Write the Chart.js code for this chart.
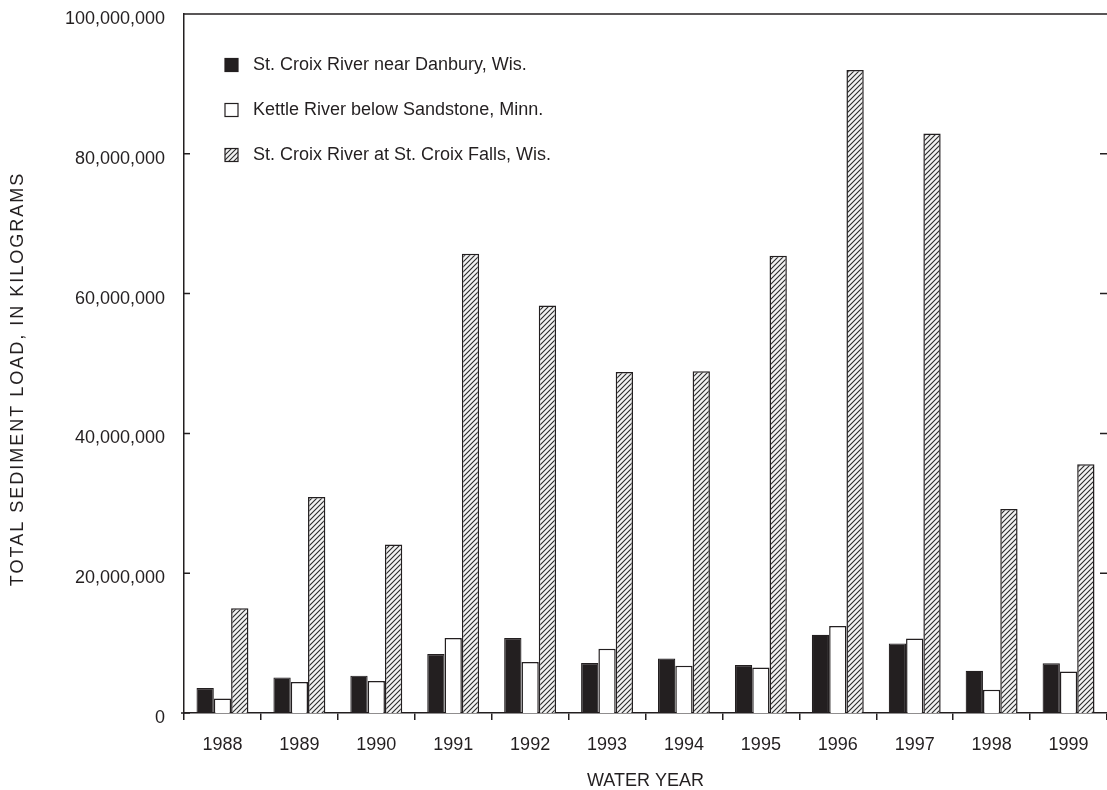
<!DOCTYPE html>
<html>
<head>
<meta charset="utf-8">
<script src="https://cdn.jsdelivr.net/npm/chart.js@4"></script>
<style>
  html, body { margin: 0; padding: 0; background: #fff; }
</style>
</head>
<body>
<canvas id="sediment" width="1107" height="790"></canvas>
<script>
// water years on the x axis
const years = ["1988", "1989", "1990", "1991", "1992", "1993", "1994", "1995", "1996", "1997", "1998", "1999"];

// total sediment load, kilograms
const danbury = [3580000, 5090000, 5340000, 8440000, 10730000, 7150000, 7800000, 6870000, 11200000, 9960000, 6050000, 7100000];
const kettle = [2090000, 4430000, 4580000, 10730000, 7300000, 9200000, 6770000, 6520000, 12450000, 10670000, 3330000, 5950000];
const stCroixFalls = [15000000, 30900000, 24100000, 65700000, 58300000, 48800000, 48900000, 65400000, 92000000, 82900000, 29200000, 35600000];

const seriesNames = [
  "St. Croix River near Danbury, Wis.",
  "Kettle River below Sandstone, Minn.",
  "St. Croix River at St. Croix Falls, Wis."
];
const yTicks = [0, 20000000, 40000000, 60000000, 80000000, 100000000];
const yTitle = "TOTAL SEDIMENT LOAD, IN KILOGRAMS";

const ink = "#231f20";
const font = "'Liberation Sans', Arial, sans-serif";

// diagonal hatching for the St. Croix Falls bars
function makeHatch() {
  const c = document.createElement("canvas");
  c.width = 5; c.height = 5;
  const g = c.getContext("2d");
  g.fillStyle = "#f2f2f2";
  g.fillRect(0, 0, 5, 5);
  g.strokeStyle = "#2a2a2a";
  g.lineWidth = 1.1;
  g.beginPath();
  g.moveTo(0, 5); g.lineTo(5, 0);
  g.moveTo(-1, 1); g.lineTo(1, -1);
  g.moveTo(4, 6); g.lineTo(6, 4);
  g.stroke();
  return g.createPattern(c, "repeat");
}
const hatch = makeHatch();

// ! frame, inward ticks, y title and the legend inside the plot
const framePlugin = {
  id: "frame",
  afterDraw(chart) {
    const ctx = chart.ctx;
    const a = chart.chartArea;
    const y = chart.scales.y;
    ctx.save();
    ctx.strokeStyle = ink;
    ctx.lineWidth = 1.5;
    ctx.beginPath();
    ctx.moveTo(a.left, a.top);
    ctx.lineTo(a.right, a.top);
    for (const v of yTicks) {
      const py = y.getPixelForValue(v);
      ctx.moveTo(v == 0 ? a.left - 3 : a.left, py);
      ctx.lineTo(a.left + 6, py);
      if (v > 0 && v < 100000000) {
        ctx.moveTo(a.right - 7, py);
        ctx.lineTo(a.right, py);
      }
    }
    ctx.stroke();

    // y title, spaced out like the original
    ctx.save();
    ctx.translate(18, 379);
    ctx.rotate(-Math.PI / 2);
    ctx.font = "18px " + font;
    ctx.letterSpacing = "2px";
    ctx.fillStyle = ink;
    ctx.textAlign = "center";
    ctx.textBaseline = "middle";
    ctx.fillText(yTitle, 0, 0);
    ctx.restore();

    // legend
    ctx.font = "18px " + font;
    ctx.textBaseline = "middle";
    ctx.textAlign = "left";
    chart.data.datasets.forEach(function (ds, i) {
      const bx = a.left + 41;
      const cy = a.top + 51 + i * 45;
      ctx.fillStyle = ds.backgroundColor;
      ctx.fillRect(bx, cy - 6.5, 13, 13);
      ctx.lineWidth = 1.2;
      ctx.strokeStyle = ink;
      ctx.strokeRect(bx, cy - 6.5, 13, 13);
      ctx.fillStyle = ink;
      ctx.fillText(ds.label, a.left + 69, cy);
    });
    ctx.restore();
  }
};

new Chart("sediment", {
  type: "bar",
  data: {
    labels: years,
    datasets: [
      { label: seriesNames[0], data: danbury, backgroundColor: ink, borderColor: ink, borderWidth: 1.2 },
      { label: seriesNames[1], data: kettle, backgroundColor: "#ffffff", borderColor: ink, borderWidth: 1.5 },
      { label: seriesNames[2], data: stCroixFalls, backgroundColor: hatch, borderColor: ink, borderWidth: 1.5 }
    ]
  },
  options: {
    responsive: false,
    animation: false,
    layout: { padding: { top: 14, left: 0, right: 0, bottom: 0 } },
    datasets: {
      bar: { categoryPercentage: 0.675, barPercentage: 1.0 }
    },
    plugins: {
      legend: { display: false },
      tooltip: { enabled: false }
    },
    scales: {
      x: {
        grid: { drawOnChartArea: false, drawTicks: true, tickLength: 7, color: ink, lineWidth: 1.5 },
        border: { display: true, color: ink, width: 1.5 },
        ticks: { color: ink, font: { family: font, size: 18 }, padding: 14, maxRotation: 0 },
        title: { display: true, text: "WATER YEAR", color: ink, font: { family: font, size: 18 }, padding: { top: 0, bottom: -2 } },
        afterFit: function (scale) { scale.height = 77; scale.paddingLeft = 0; scale.paddingRight = 0; }
      },
      y: {
        min: 0,
        max: 100000000,
        grid: { display: false, drawTicks: false, tickLength: 0 },
        border: { display: true, color: ink, width: 1.5 },
        ticks: {
          stepSize: 20000000,
          color: ink,
          padding: 19,
          labelOffset: 5,
          font: { family: font, size: 18 },
          callback: function (v) { return v.toLocaleString("en-US"); }
        },
        title: { display: false },
        afterFit: function (scale) { scale.width = 184; scale.paddingTop = 0; scale.paddingBottom = 0; }
      }
    }
  },
  plugins: [framePlugin]
});
</script>
</body>
</html>
